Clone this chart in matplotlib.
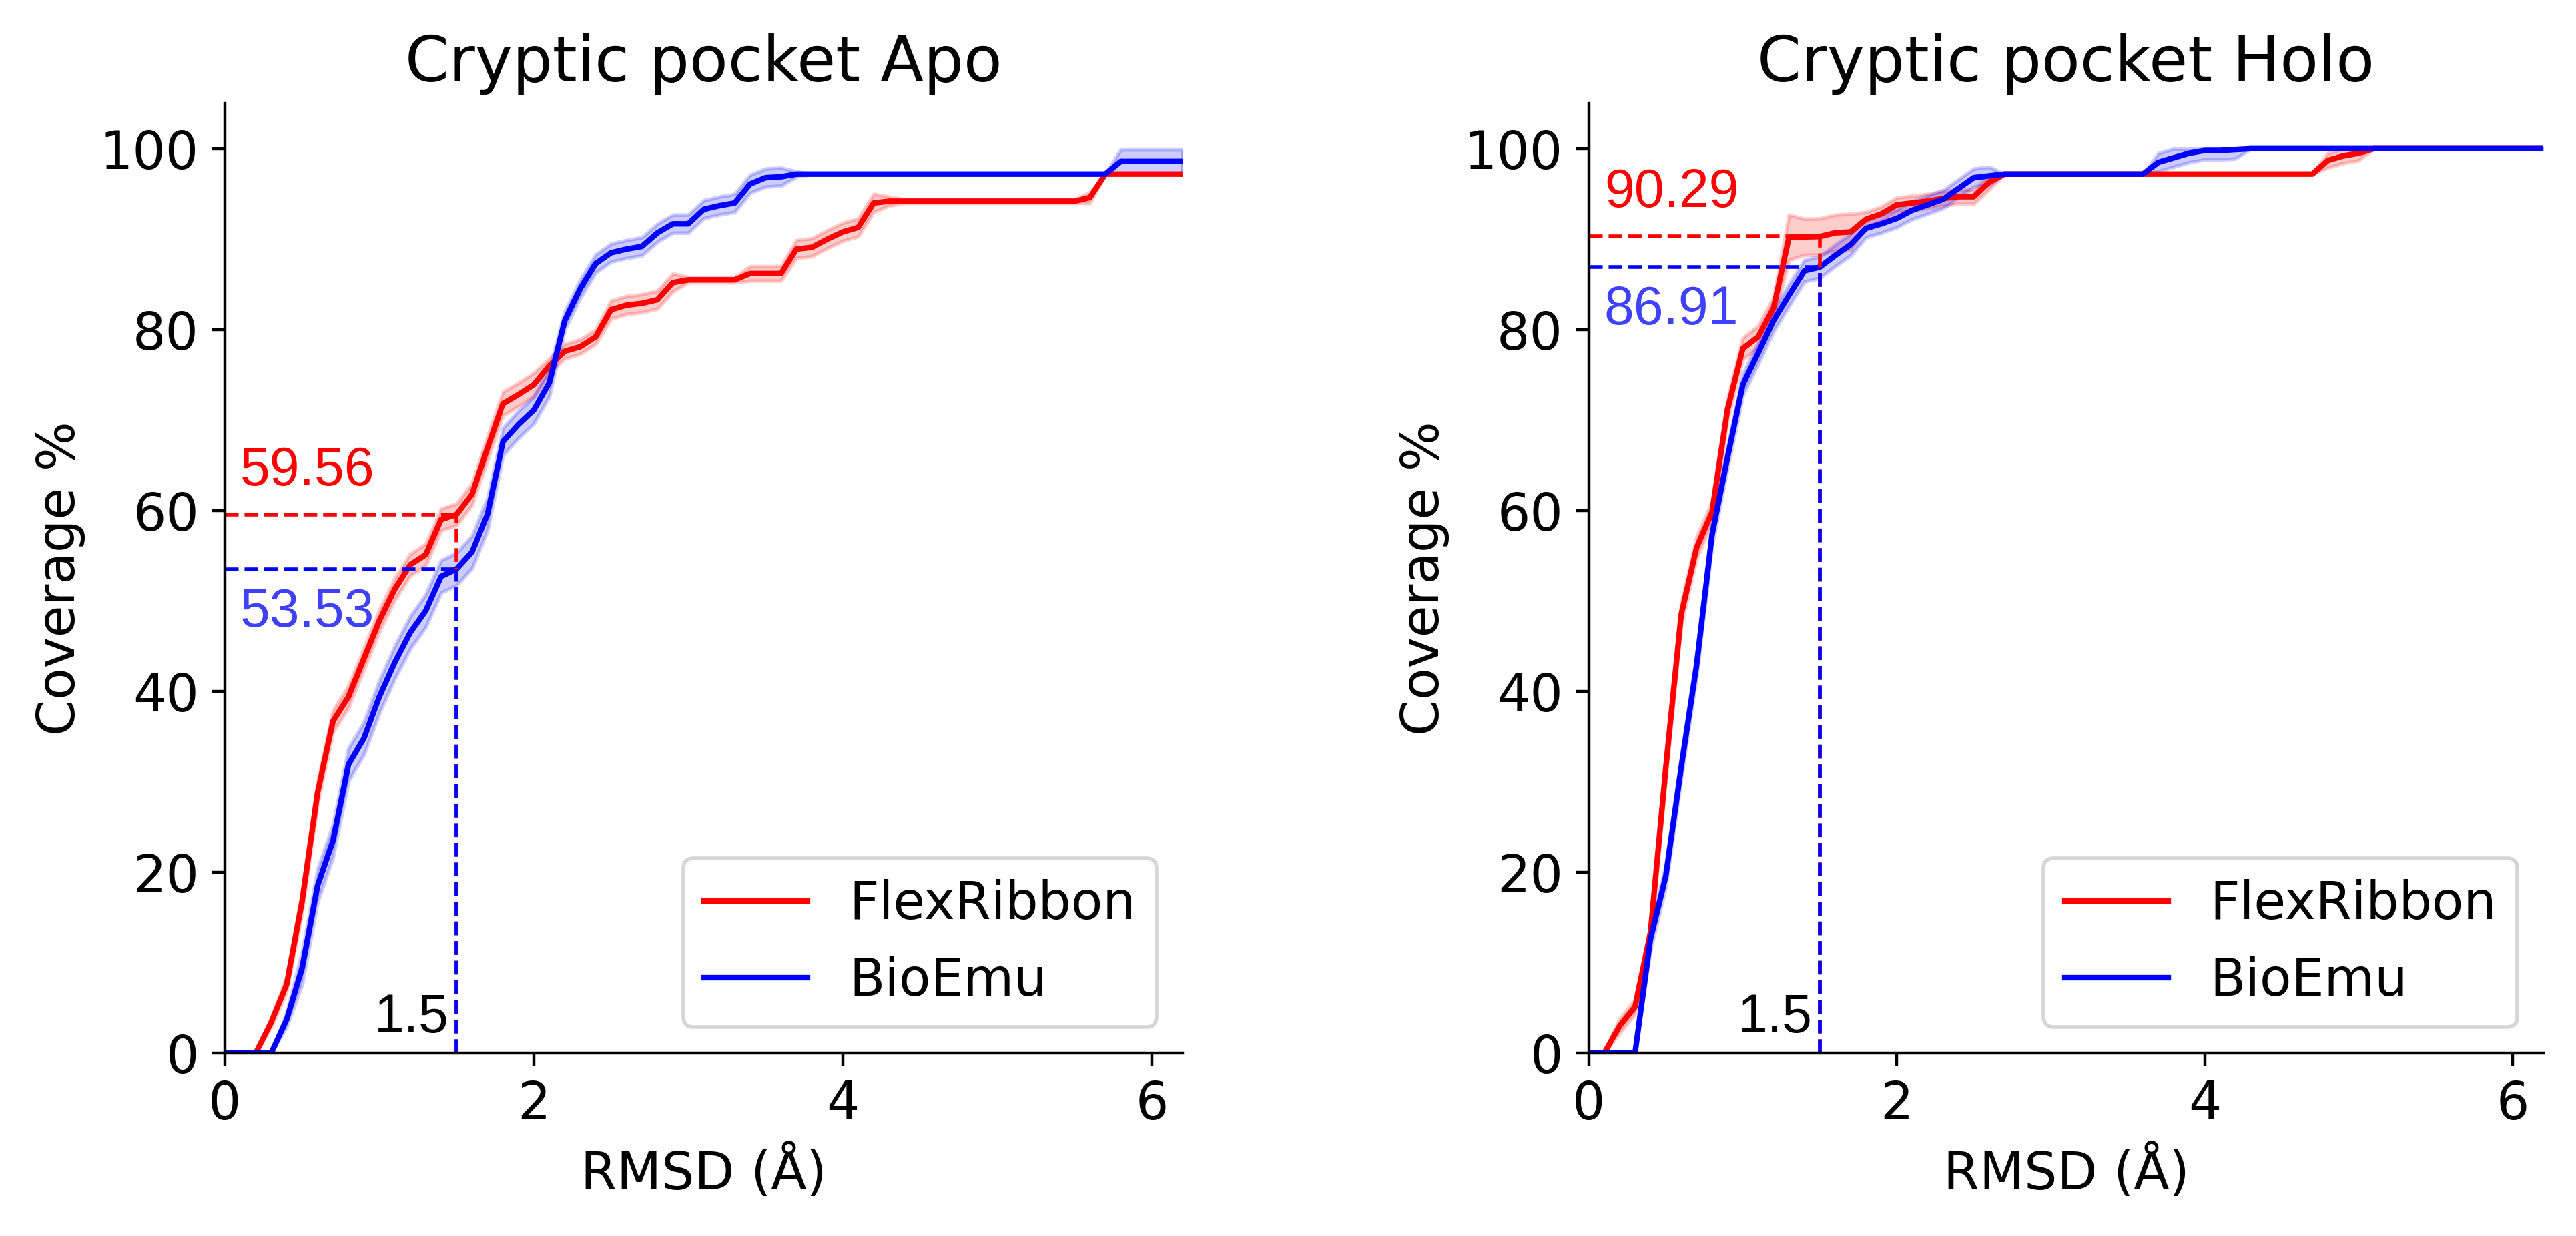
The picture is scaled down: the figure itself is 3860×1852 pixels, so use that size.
import matplotlib
matplotlib.use("Agg")
import matplotlib.pyplot as plt
import numpy as np

# RMSD thresholds (A), sampled every 0.1
rmsd = np.round(np.arange(0, 6.25, 0.1), 1)

# coverage %, Apo pocket
apo_flex = [0, 0, 0, 3.4, 7.6, 16.8, 28.8, 36.7, 39.4, 43.6,
            47.8, 51.3, 54.0, 55.1, 59.0, 59.56, 61.8, 66.9, 71.8, 72.8,
            73.9, 76.0, 77.6, 78.1, 79.2, 82.2, 82.7, 82.9, 83.3, 85.2,
            85.5, 85.5, 85.5, 85.5, 86.2, 86.2, 86.2, 88.9, 89.1, 90.0,
            90.8, 91.3, 94.0, 94.2, 94.2, 94.2, 94.2, 94.2, 94.2, 94.2,
            94.2, 94.2, 94.2, 94.2, 94.2, 94.2, 94.6, 97.2, 97.2, 97.2,
            97.2, 97.2, 97.2]
apo_flex_err = [0, 0, 0, 0.5, 0.8, 1.2, 1.2, 1.2, 1.2, 1.2,
                1.2, 1.2, 1.2, 1.2, 1.2, 1.2, 1.2, 1.3, 1.3, 1.3,
                1.3, 0.8, 0.8, 0.8, 0.8, 1.0, 1.0, 1.0, 1.0, 1.0,
                0.3, 0.3, 0.3, 0.3, 0.8, 0.8, 0.8, 1.0, 1.0, 1.0,
                1.0, 1.0, 1.0, 0.5, 0.2, 0.2, 0.2, 0.2, 0.2, 0.2,
                0.2, 0.2, 0.2, 0.2, 0.2, 0.2, 0.6, 0, 0, 0,
                0, 0, 0]
apo_bio = [0, 0, 0, 0, 3.7, 9.4, 18.5, 23.5, 31.9, 34.8,
           39.4, 43.2, 46.5, 48.9, 52.7, 53.53, 55.4, 59.6, 67.6, 69.5,
           71.1, 74.1, 81.0, 84.5, 87.3, 88.5, 88.9, 89.2, 90.7, 91.7,
           91.7, 93.3, 93.7, 94.0, 96.1, 96.8, 96.9, 97.2, 97.2, 97.2,
           97.2, 97.2, 97.2, 97.2, 97.2, 97.2, 97.2, 97.2, 97.2, 97.2,
           97.2, 97.2, 97.2, 97.2, 97.2, 97.2, 97.2, 97.2, 98.6, 98.6,
           98.6, 98.6, 98.6]
apo_bio_err = [0, 0, 0, 0, 0.8, 1.8, 1.8, 1.8, 1.8, 1.8,
               1.8, 1.8, 1.8, 1.8, 1.8, 1.8, 1.8, 1.8, 1.5, 1.5,
               1.5, 1.5, 1.0, 1.0, 1.0, 1.0, 1.0, 1.0, 1.0, 1.0,
               1.0, 1.0, 1.0, 1.0, 1.0, 1.0, 1.0, 0.3, 0, 0,
               0, 0, 0, 0, 0, 0, 0, 0, 0, 0,
               0, 0, 0, 0, 0, 0, 0, 0, 1.3, 1.3,
               1.3, 1.3, 1.3]

# Holo pocket
holo_flex = [0, 0, 3.0, 5.1, 13.3, 31.6, 48.5, 55.9, 59.8, 71.1,
             77.9, 79.2, 82.4, 90.2, 90.25, 90.29, 90.7, 90.8, 92.2, 92.8,
             93.8, 94.0, 94.2, 94.5, 94.7, 94.7, 96.3, 97.2, 97.2, 97.2,
             97.2, 97.2, 97.2, 97.2, 97.2, 97.2, 97.2, 97.2, 97.2, 97.2,
             97.2, 97.2, 97.2, 97.2, 97.2, 97.2, 97.2, 97.2, 98.7, 99.2,
             99.5, 100, 100, 100, 100, 100, 100, 100, 100, 100,
             100, 100, 100]
holo_flex_err = [0, 0, 0.8, 0.8, 0.8, 1.2, 1.2, 1.2, 1.2, 1.2,
                 1.2, 1.2, 1.2, 2.5, 2.0, 2.0, 2.0, 2.0, 0.8, 0.8,
                 0.8, 0.8, 0.8, 0.8, 0.8, 0.8, 0.8, 0, 0, 0,
                 0, 0, 0, 0, 0, 0, 0, 0, 0, 0,
                 0, 0, 0, 0, 0, 0, 0, 0, 0.8, 0.8,
                 0.8, 0, 0, 0, 0, 0, 0, 0, 0, 0,
                 0, 0, 0]
holo_bio = [0, 0, 0, 0, 12.6, 19.6, 31.6, 42.9, 57.3, 65.8,
            73.9, 77.4, 81.0, 83.8, 86.5, 86.91, 88.2, 89.4, 91.2, 91.7,
            92.3, 93.2, 93.8, 94.4, 95.6, 96.8, 97.0, 97.2, 97.2, 97.2,
            97.2, 97.2, 97.2, 97.2, 97.2, 97.2, 97.2, 98.5, 99.0, 99.5,
            99.8, 99.8, 99.9, 100, 100, 100, 100, 100, 100, 100,
            100, 100, 100, 100, 100, 100, 100, 100, 100, 100,
            100, 100, 100]
holo_bio_err = [0, 0, 0, 0, 1.2, 1.2, 1.2, 1.2, 1.2, 1.2,
                1.2, 1.2, 1.2, 1.2, 1.2, 1.2, 1.2, 1.2, 1.0, 1.0,
                1.0, 1.0, 1.0, 1.0, 1.0, 1.0, 1.0, 0, 0, 0,
                0, 0, 0, 0, 0, 0, 0, 1.0, 1.0, 1.0,
                1.0, 1.0, 1.0, 0, 0, 0, 0, 0, 0, 0,
                0, 0, 0, 0, 0, 0, 0, 0, 0, 0,
                0, 0, 0]

titles = ["Cryptic pocket Apo", "Cryptic pocket Holo"]
cutoff = 1.5
# coverage at the 1.5 A cutoff (FlexRibbon, BioEmu)
at_cutoff = [(59.56, 53.53), (90.29, 86.91)]

panels = [(apo_flex, apo_flex_err, apo_bio, apo_bio_err),
          (holo_flex, holo_flex_err, holo_bio, holo_bio_err)]

fig = plt.figure(figsize=(9.65, 4.63), dpi=400)
ax_left = fig.add_axes([0.0873, 0.148, 0.3718, 0.7683])
ax_right = fig.add_axes([0.6168, 0.148, 0.3705, 0.7683])

for ax, title, (flex, flex_err, bio, bio_err), (v_flex, v_bio) in zip(
        [ax_left, ax_right], titles, panels, at_cutoff):
    flex = np.array(flex)
    bio = np.array(bio)
    flex_err = np.array(flex_err)
    bio_err = np.array(bio_err)

    ax.plot(rmsd, flex, color="red", lw=1.5, label="FlexRibbon")
    ax.fill_between(rmsd, flex - flex_err, np.minimum(flex + flex_err, 100),
                    color="red", alpha=0.2)
    ax.plot(rmsd, bio, color="blue", lw=1.5, label="BioEmu")
    ax.fill_between(rmsd, bio - bio_err, np.minimum(bio + bio_err, 100),
                    color="blue", alpha=0.2)

    # cutoff guide lines
    ax.hlines(v_flex, 0, cutoff, colors="red", linestyles="--", lw=1)
    ax.hlines(v_bio, 0, cutoff, colors="blue", linestyles="--", lw=1)
    ax.vlines(cutoff, 0, v_flex, colors="red", linestyles="--", lw=1)
    ax.vlines(cutoff, 0, v_bio, colors="blue", linestyles="--", lw=1)

    ax.text(0.1, v_flex + 2, f"{v_flex:.2f}", color="red", fontsize=14.5,
            family="Liberation Sans", va="bottom")
    ax.text(0.1, v_bio - 2, f"{v_bio:.2f}", color="#4040ff", fontsize=14.5,
            family="Liberation Sans", va="top")
    ax.text(cutoff - 0.05, 1, "1.5", color="black", fontsize=14.5,
            family="Liberation Sans", ha="right", va="bottom")

    ax.set_xlim(0, 6.2)
    ax.set_ylim(0, 105)
    ax.set_xticks([0, 2, 4, 6])
    ax.set_yticks([0, 20, 40, 60, 80, 100])
    ax.tick_params(labelsize=14)
    ax.set_xlabel("RMSD (Å)", fontsize=14)
    ax.set_ylabel("Coverage %", fontsize=14)
    ax.set_title(title, fontsize=17)
    ax.spines["top"].set_visible(False)
    ax.spines["right"].set_visible(False)
    ax.legend(loc="lower right", fontsize=14)

plt.savefig("out.png", dpi=400)
